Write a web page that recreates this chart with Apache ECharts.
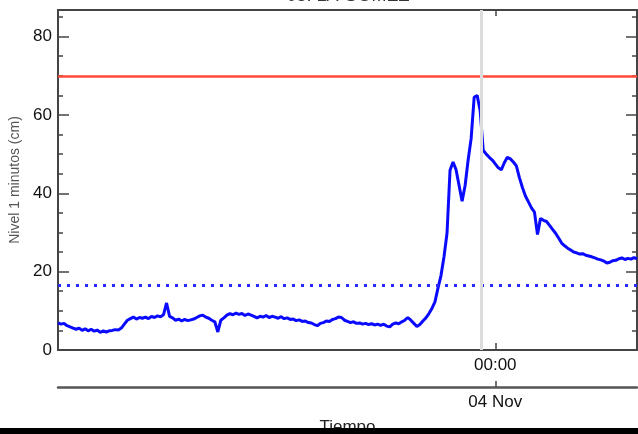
<!DOCTYPE html>
<html>
<head>
<meta charset="utf-8">
<script src="https://cdn.jsdelivr.net/npm/echarts@6/dist/echarts.min.js"></script>
<style>html,body{margin:0;padding:0;background:#fff;}#c{width:638px;height:434px;}</style>
</head>
<body>
<div id="c"></div>
<script>
// Hours relative to 04 Nov 00:00, regular 0.5 h sampling
var startHour = -72.5;
var stepHour = 0.5;
var levels = [
6.9,6.6,6.8,6.2,5.9,5.6,5.3,5.6,5.0,5.4,
4.9,5.3,4.8,5.1,4.5,4.9,4.6,4.9,5.0,5.2,
5.1,5.6,6.6,7.6,8.0,8.4,7.9,8.3,8.1,8.4,
8.0,8.6,8.3,8.7,8.5,9.0,12.0,8.6,8.2,7.6,
7.9,7.4,7.8,7.5,7.7,7.9,8.3,8.7,8.9,8.4,
8.1,7.6,7.2,4.6,7.6,8.2,8.9,9.3,9.0,9.4,
9.1,9.3,8.8,9.2,8.9,8.6,8.2,8.6,8.4,8.8,
8.3,8.6,8.4,8.1,8.5,8.0,8.2,7.8,7.9,7.5,
7.7,7.3,7.4,7.0,6.9,6.5,6.2,6.8,7.0,7.4,
7.3,7.8,8.0,8.4,8.3,7.6,7.3,7.0,7.2,6.8,
6.9,6.6,6.8,6.5,6.7,6.4,6.6,6.3,6.6,6.1,
5.9,6.6,6.9,6.7,7.2,7.6,8.3,7.6,6.8,6.0,
6.5,7.4,8.2,9.3,10.6,12.3,15.8,19.0,23.8,29.8,
45.9,48.0,46.0,42.0,38.0,42.0,48.5,54.0,64.5,65.0,
61.0,51.0,50.0,49.2,48.5,47.5,46.5,46.0,47.8,49.2,
48.8,48.0,47.0,44.0,41.5,39.3,37.8,36.3,35.2,29.5,
33.6,33.1,32.8,31.8,30.8,29.8,28.6,27.3,26.6,26.0,
25.5,25.0,24.8,24.5,24.6,24.2,24.0,23.8,23.5,23.2,
23.0,22.7,22.2,22.4,22.8,22.9,23.3,23.5,23.1,23.4,
23.2,23.6,23.3
];
var xRange = [-72.5, 23.5];
var yRange = [0, 86.8];
var alarmLevel = 70;
var meanLevel = 16.6;
var eventHour = -2.37;
var timeTickLabels = ['00:00'];
var dateTickLabels = ['04 Nov'];
var tickHours = [0];
var titleText = '05. LA GOMEZ';
var yName = 'Nivel 1 minutos (cm)';
var xName = 'Tiempo';

var seriesData = levels.map(function (v, i) { return [startHour + stepHour * i, v]; });

var FONT = 'Liberation Sans, Arial, Helvetica, sans-serif';
var AX = '#444';

function yAx(pos, showLabel) {
  return {
    type: 'value', position: pos, min: yRange[0], max: yRange[1], interval: 20,
    axisLine: { show: true, onZero: false, lineStyle: { color: AX, width: 2 } },
    axisTick: { show: true, inside: true, length: 11, lineStyle: { color: AX, width: 1.5 } },
    minorTick: { show: true, splitNumber: 4, length: 5, lineStyle: { color: AX, width: 1.5 } },
    axisLabel: { show: showLabel, showMaxLabel: false, color: '#111', fontSize: 17, fontFamily: FONT, margin: 6 },
    splitLine: { show: false },
    name: showLabel ? yName : '', nameLocation: 'middle', nameGap: 34,
    nameTextStyle: { color: '#555', fontSize: 14, fontFamily: FONT }
  };
}

var chart = echarts.init(document.getElementById('c'));
chart.setOption({
  animation: false,
  backgroundColor: '#fff',
  title: {
    text: titleText, left: 348, top: -13, padding: 0, textAlign: 'center',
    textStyle: { color: '#333', fontSize: 18, fontWeight: 'normal', fontFamily: FONT }
  },
  grid: { left: 58, right: 1, top: 10, bottom: 84, containLabel: false, outerBoundsMode: 'none' },
  xAxis: [
    {
      type: 'value', position: 'bottom', min: xRange[0], max: xRange[1],
      axisLine: { show: true, onZero: false, lineStyle: { color: AX, width: 2 } },
      axisTick: { show: true, inside: true, length: 7, customValues: tickHours, lineStyle: { color: AX, width: 1.5 } },
      axisLabel: { show: true, customValues: tickHours, formatter: function (v) { return timeTickLabels[tickHours.indexOf(v)] || ''; },
        color: '#111', fontSize: 17, fontFamily: FONT, margin: 7 },
      splitLine: { show: false }
    },
    {
      type: 'value', position: 'top', min: xRange[0], max: xRange[1],
      axisLine: { show: true, onZero: false, lineStyle: { color: AX, width: 2 } },
      axisTick: { show: true, inside: true, length: 6, customValues: tickHours, lineStyle: { color: AX, width: 1.5 } },
      axisLabel: { show: false },
      splitLine: { show: false }
    },
    {
      type: 'value', position: 'bottom', offset: 37, min: xRange[0], max: xRange[1],
      axisLine: { show: true, onZero: false, lineStyle: { color: '#555', width: 2.5 } },
      axisTick: { show: true, inside: true, length: 6, customValues: tickHours, lineStyle: { color: AX, width: 1.5 } },
      axisLabel: { show: true, customValues: tickHours, formatter: function (v) { return dateTickLabels[tickHours.indexOf(v)] || ''; },
        color: '#111', fontSize: 17, fontFamily: FONT, margin: 7 },
      splitLine: { show: false },
      name: xName, nameLocation: 'middle', nameGap: 32,
      nameTextStyle: { color: '#222', fontSize: 17, fontFamily: FONT }
    }
  ],
  yAxis: [yAx('left', true), yAx('right', false)],
  series: [
    {
      type: 'line', data: seriesData, showSymbol: false, symbol: 'none', z: 2,
      lineStyle: { color: '#0a0aff', width: 3 },
      markLine: {
        silent: true, symbol: 'none', label: { show: false }, z: 5,
        data: [
          { yAxis: alarmLevel, lineStyle: { color: '#ff4a3a', width: 2.5, type: 'solid' } },
          { yAxis: meanLevel, lineStyle: { color: '#2a2aff', width: 3, type: [3, 6] } }
        ]
      }
    },
    {
      type: 'line', data: [], z: 6,
      markLine: {
        silent: true, symbol: 'none', label: { show: false }, z: 7,
        data: [{ xAxis: eventHour, lineStyle: { color: '#dcdcdc', width: 3, type: 'solid' } }]
      }
    }
  ],
  graphic: [
    { type: 'rect', left: 0, bottom: 0, z: 100, shape: { width: 638, height: 6 }, style: { fill: '#000' } }
  ]
});
</script>
</body>
</html>
